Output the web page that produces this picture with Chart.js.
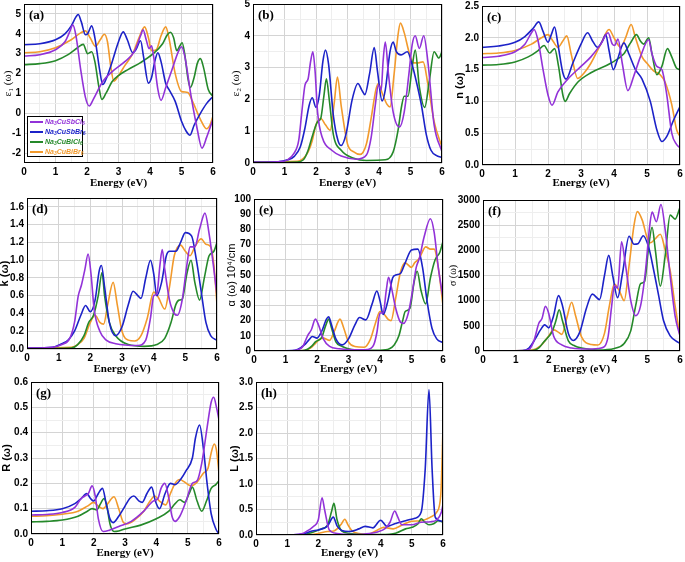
<!DOCTYPE html>
<html><head><meta charset="utf-8">
<script src="https://cdn.jsdelivr.net/npm/chart.js@4"></script>
<style>
html,body{margin:0;padding:0;background:#fff;}
#wrap{position:relative;width:685px;height:562px;overflow:hidden;background:#fff;}
canvas{position:absolute;}
#legend{position:absolute;left:27px;top:116px;width:56px;height:41px;border:1px solid #000;background:#fff;box-sizing:border-box;font:italic bold 7px "Liberation Sans",Arial,sans-serif;}
#legend .row{position:absolute;left:2px;height:10px;line-height:10px;white-space:nowrap;}
#legend .ln{display:inline-block;width:13px;height:2px;vertical-align:middle;margin-right:2px;}
#legend sub{font-size:5px;vertical-align:-1px;line-height:0;}
</style></head>
<body><div id="wrap"></div>
<script>
// ---------- series names / colours ----------
const seriesNames = ['Na3CuSbCl6','Na3CuSbBr6','Na3CuBiCl6','Na3CuBiBr6'];
const seriesColors = ['#9232d8','#1c22c8','#25892a','#f29a2c'];

// ---------- axis ticks ----------
const energyTicks = [0,1,2,3,4,5,6];
const energyMinor = [0.5,1.5,2.5,3.5,4.5,5.5];

// ---------- (a) eps1 ----------
const eps1_SbCl = [[0,2.88],[0.5,2.95],[1.0,3.2],[1.3,3.6],[1.45,4.1],[1.55,4.45],[1.65,3.9],[1.8,2.2],[1.95,0.8],[2.07,0.37],[2.2,0.7],[2.5,1.6],[2.8,2.1],[3.2,2.6],[3.5,3.1],[3.7,3.9],[3.78,4.2],[3.88,3.7],[3.97,3.25],[4.05,3.4],[4.12,2.8],[4.25,1.2],[4.35,0.65],[4.5,1.3],[4.7,2.2],[4.9,3.1],[5.0,3.35],[5.1,2.9],[5.3,0.9],[5.5,-0.8],[5.65,-1.75],[5.8,-1.2],[6.0,-0.3]];
const eps1_SbBr = [[0,3.45],[0.5,3.5],[1.0,3.7],[1.3,4.0],[1.5,4.4],[1.65,4.85],[1.72,4.97],[1.82,4.6],[1.95,3.95],[2.02,4.0],[2.15,4.4],[2.25,3.8],[2.4,2.2],[2.5,1.45],[2.6,1.7],[2.8,2.6],[3.0,3.6],[3.15,4.1],[3.28,3.7],[3.45,3.05],[3.55,3.2],[3.7,3.65],[3.8,2.8],[3.95,1.52],[4.05,1.8],[4.15,2.6],[4.25,3.05],[4.35,2.6],[4.5,1.5],[4.6,1.2],[4.8,0.6],[5.0,-0.4],[5.15,-0.9],[5.27,-1.1],[5.4,-0.6],[5.6,0.0],[5.8,0.5],[6.0,0.85]];
const eps1_BiCl = [[0,2.45],[0.5,2.5],[1.0,2.65],[1.4,2.95],[1.7,3.3],[1.88,3.47],[2.02,3.0],[2.15,3.1],[2.25,2.6],[2.38,1.3],[2.47,0.7],[2.6,1.0],[2.8,1.6],[3.0,1.9],[3.3,2.2],[3.7,2.55],[4.1,3.0],[4.4,3.5],[4.55,3.95],[4.65,4.08],[4.75,3.8],[4.85,3.15],[4.95,3.4],[5.02,3.55],[5.1,3.0],[5.2,1.8],[5.28,1.3],[5.4,1.8],[5.5,2.5],[5.6,2.75],[5.7,2.3],[5.85,1.2],[6.0,0.85]];
const eps1_BiBr = [[0,3.05],[0.5,3.1],[1.0,3.3],[1.5,3.7],[1.8,4.05],[1.95,4.15],[2.1,3.8],[2.27,3.37],[2.42,3.7],[2.55,3.98],[2.65,3.6],[2.75,2.4],[2.85,1.62],[3.0,1.9],[3.2,2.4],[3.45,3.0],[3.65,3.8],[3.83,4.35],[3.95,3.8],[4.05,3.15],[4.2,3.2],[4.35,3.9],[4.5,4.35],[4.6,3.8],[4.8,2.0],[5.0,1.1],[5.2,1.05],[5.35,0.6],[5.6,-0.3],[5.8,-0.78],[5.9,-0.6],[6.0,-0.15]];

// ---------- (b) eps2 ----------
const eps2_SbCl = [[0,0.02],[0.8,0.04],[1.1,0.1],[1.3,0.3],[1.45,0.7],[1.55,1.6],[1.65,2.45],[1.75,2.65],[1.83,3.2],[1.9,3.5],[1.97,2.9],[2.05,1.6],[2.2,0.8],[2.5,0.4],[2.8,0.22],[3.3,0.12],[3.6,0.25],[3.75,0.8],[3.88,1.8],[3.98,2.45],[4.07,2.3],[4.13,3.2],[4.2,3.8],[4.3,2.8],[4.45,1.6],[4.65,1.13],[4.8,1.6],[4.95,2.8],[5.05,3.7],[5.15,4.0],[5.28,3.6],[5.42,4.0],[5.55,3.2],[5.75,1.2],[6.0,0.35]];
const eps2_SbBr = [[0,0.02],[0.8,0.04],[1.1,0.1],[1.3,0.2],[1.5,0.5],[1.65,1.1],[1.78,1.8],[1.88,2.05],[2.0,1.75],[2.1,2.1],[2.22,3.2],[2.3,3.55],[2.4,3.1],[2.55,1.5],[2.7,0.7],[2.8,0.55],[2.95,0.9],[3.15,2.0],[3.33,2.5],[3.45,2.3],[3.55,2.15],[3.7,2.8],[3.85,3.63],[3.95,2.9],[4.1,1.95],[4.2,2.3],[4.35,3.5],[4.45,3.8],[4.55,3.5],[4.7,3.4],[4.9,3.5],[5.05,3.1],[5.2,2.5],[5.35,1.8],[5.5,0.9],[5.65,0.4],[5.85,0.22],[6.0,0.18]];
const eps2_BiCl = [[0,0.02],[1.4,0.03],[1.6,0.1],[1.75,0.4],[1.9,0.9],[2.05,1.3],[2.15,1.4],[2.25,2.1],[2.33,2.65],[2.42,2.0],[2.55,0.9],[2.8,0.4],[3.2,0.15],[3.6,0.08],[4.2,0.1],[4.45,0.35],[4.6,1.0],[4.72,1.8],[4.8,2.1],[4.92,2.1],[5.05,3.0],[5.15,3.55],[5.28,2.4],[5.45,1.75],[5.6,2.6],[5.75,3.5],[5.9,3.3],[6.0,3.5]];
const eps2_BiBr = [[0,0.03],[1.4,0.05],[1.6,0.15],[1.75,0.35],[1.88,0.7],[2.0,1.2],[2.15,1.4],[2.3,1.2],[2.45,1.03],[2.58,1.9],[2.68,2.7],[2.8,1.8],[3.0,0.6],[3.2,0.35],[3.4,0.27],[3.6,0.6],[3.75,1.4],[3.9,2.3],[3.98,2.5],[4.1,2.2],[4.25,1.85],[4.35,1.76],[4.48,2.8],[4.6,4.0],[4.68,4.4],[4.8,4.1],[4.95,3.5],[5.1,3.15],[5.25,3.15],[5.4,3.18],[5.55,2.5],[5.75,1.3],[6.0,0.5]];

// ---------- (c) n ----------
const n_SbCl = [[0,1.69],[0.5,1.71],[1.0,1.78],[1.3,1.9],[1.5,2.08],[1.58,2.13],[1.7,1.95],[1.85,1.5],[2.0,1.1],[2.12,0.94],[2.3,1.15],[2.6,1.35],[3.0,1.55],[3.3,1.7],[3.6,1.9],[3.82,2.08],[3.95,1.9],[4.02,1.88],[4.12,1.98],[4.25,1.6],[4.42,1.17],[4.6,1.4],[4.8,1.7],[5.05,1.97],[5.15,1.75],[5.3,1.55],[5.45,1.5],[5.6,1.1],[5.75,0.5],[5.9,0.32],[6.0,0.27]];
const n_SbBr = [[0,1.85],[0.5,1.87],[1.0,1.93],[1.3,2.02],[1.55,2.15],[1.72,2.25],[1.85,2.1],[2.0,1.93],[2.1,2.05],[2.2,2.17],[2.3,1.9],[2.45,1.45],[2.55,1.35],[2.75,1.6],[3.0,1.9],[3.2,2.08],[3.35,1.95],[3.5,1.85],[3.65,1.95],[3.75,2.05],[3.85,1.8],[3.98,1.5],[4.1,1.65],[4.3,1.92],[4.45,1.75],[4.65,1.5],[4.85,1.35],[5.1,1.0],[5.3,0.55],[5.45,0.37],[5.6,0.45],[5.8,0.7],[6.0,0.92]];
const n_BiCl = [[0,1.57],[0.5,1.58],[1.0,1.62],[1.4,1.7],[1.7,1.8],[1.88,1.88],[2.05,1.76],[2.2,1.83],[2.32,1.55],[2.45,1.1],[2.52,1.0],[2.65,1.12],[2.9,1.3],[3.3,1.45],[3.9,1.6],[4.3,1.75],[4.5,1.92],[4.68,2.05],[4.8,1.95],[4.9,1.9],[5.05,2.0],[5.15,1.75],[5.3,1.42],[5.45,1.55],[5.62,1.83],[5.75,1.7],[5.9,1.52],[6.0,1.5]];
const n_BiBr = [[0,1.75],[0.5,1.76],[1.0,1.8],[1.5,1.9],[1.8,2.0],[2.0,2.05],[2.15,1.95],[2.3,1.85],[2.45,1.95],[2.57,2.03],[2.7,1.75],[2.9,1.36],[3.1,1.45],[3.3,1.6],[3.6,1.9],[3.85,2.13],[4.0,2.0],[4.2,1.85],[4.35,2.0],[4.52,2.21],[4.65,2.0],[4.85,1.7],[5.0,1.6],[5.2,1.48],[5.4,1.42],[5.55,1.3],[5.75,0.95],[5.9,0.55],[6.0,0.45]];

// ---------- (d) k ----------
const k_SbCl = [[0,0.01],[0.8,0.02],[1.1,0.05],[1.35,0.12],[1.5,0.3],[1.62,0.6],[1.72,0.72],[1.83,0.9],[1.93,1.07],[2.02,0.85],[2.12,0.45],[2.3,0.2],[2.5,0.1],[2.8,0.06],[3.5,0.04],[3.75,0.1],[3.9,0.35],[4.0,0.6],[4.1,0.62],[4.2,0.95],[4.27,1.12],[4.35,0.9],[4.5,0.55],[4.65,0.4],[4.75,0.38],[4.9,0.55],[5.05,0.95],[5.15,1.15],[5.3,1.15],[5.45,1.35],[5.62,1.53],[5.75,1.3],[5.9,0.9],[6.0,0.6]];
const k_SbBr = [[0,0.01],[0.8,0.02],[1.1,0.06],[1.3,0.1],[1.5,0.2],[1.7,0.38],[1.85,0.49],[2.0,0.42],[2.15,0.55],[2.28,0.88],[2.35,0.94],[2.45,0.7],[2.6,0.3],[2.8,0.15],[3.0,0.25],[3.2,0.5],[3.35,0.65],[3.5,0.6],[3.6,0.57],[3.75,0.8],[3.9,1.0],[4.0,0.85],[4.1,0.6],[4.25,0.75],[4.4,1.05],[4.5,1.1],[4.7,1.1],[4.85,1.2],[5.0,1.31],[5.2,1.27],[5.35,1.0],[5.5,0.65],[5.65,0.3],[5.8,0.15],[6.0,0.1]];
const k_BiCl = [[0,0.005],[1.4,0.01],[1.6,0.05],[1.8,0.15],[1.95,0.3],[2.1,0.38],[2.25,0.6],[2.37,0.86],[2.45,0.6],[2.6,0.3],[2.8,0.15],[3.2,0.05],[3.7,0.03],[4.1,0.05],[4.35,0.12],[4.55,0.3],[4.7,0.5],[4.8,0.55],[4.9,0.56],[5.05,0.85],[5.18,1.0],[5.3,0.75],[5.45,0.55],[5.6,0.8],[5.75,1.05],[5.9,1.1],[6.0,1.2]];
const k_BiBr = [[0,0.01],[1.4,0.02],[1.6,0.05],[1.8,0.12],[2.0,0.3],[2.15,0.38],[2.3,0.3],[2.42,0.28],[2.55,0.5],[2.72,0.75],[2.85,0.5],[3.0,0.2],[3.2,0.1],[3.4,0.09],[3.6,0.15],[3.8,0.35],[4.0,0.64],[4.15,0.58],[4.35,0.45],[4.5,0.7],[4.65,1.05],[4.85,1.17],[5.0,1.1],[5.15,1.05],[5.3,1.15],[5.5,1.24],[5.65,1.18],[5.8,1.15],[5.9,0.95],[6.0,0.5]];

// ---------- (e) alpha ----------
const a_SbCl = [[0,0],[1.2,0.2],[1.4,0.8],[1.55,3],[1.7,10],[1.82,14],[1.95,21],[2.05,17],[2.2,8],[2.4,3],[2.7,1.5],[3.2,0.8],[3.6,1],[3.8,4],[3.9,12],[4.0,25],[4.1,25],[4.2,40],[4.27,48.5],[4.35,43],[4.5,28],[4.65,19],[4.75,18.2],[4.9,25],[5.05,42],[5.15,55],[5.25,61],[5.4,75],[5.6,87],[5.72,78],[5.85,55],[6.0,35]];
const a_SbBr = [[0,0],[1.2,0.3],[1.4,1.2],[1.6,4],[1.75,7.5],[1.85,9.5],[2.0,8.5],[2.15,13],[2.3,21],[2.37,22.5],[2.45,18],[2.6,8],[2.8,4],[3.0,8],[3.2,17],[3.35,22],[3.55,20.5],[3.75,31],[3.9,39.5],[4.0,33],[4.1,24],[4.25,33],[4.4,48],[4.5,50],[4.65,51],[4.8,58],[5.0,66.5],[5.2,67],[5.35,55],[5.5,32],[5.65,15],[5.8,8],[6.0,5.5]];
const a_BiCl = [[0,0],[1.5,0.2],[1.7,1.2],[1.85,3.5],[1.95,6],[2.15,9],[2.28,17],[2.37,21],[2.45,16],[2.6,6],[2.8,3],[3.1,1],[3.5,0.5],[4.0,0.5],[4.3,1.5],[4.45,4],[4.6,10],[4.72,20],[4.8,26],[4.95,28],[5.08,45],[5.18,52.5],[5.3,40],[5.45,31],[5.6,48],[5.75,60],[5.9,65],[6.0,72]];
const a_BiBr = [[0,0],[1.6,0.3],[1.8,2],[1.95,5],[2.1,8],[2.2,8.5],[2.4,7],[2.55,13],[2.73,21],[2.85,15],[3.0,6],[3.2,3],[3.5,2.5],[3.7,8],[3.85,18],[4.0,26],[4.1,25],[4.25,21],[4.35,20],[4.5,35],[4.65,52],[4.8,58],[5.0,55],[5.1,58],[5.25,61],[5.45,68.5],[5.6,67],[5.72,67],[5.85,55],[6.0,30]];

// ---------- (f) sigma ----------
const s_SbCl = [[0,0],[1.2,5],[1.4,30],[1.55,200],[1.7,550],[1.8,650],[1.9,890],[2.0,750],[2.15,300],[2.4,120],[2.7,60],[3.2,40],[3.6,60],[3.8,250],[3.92,900],[4.0,1300],[4.1,1250],[4.22,2170],[4.32,1800],[4.5,1000],[4.65,700],[4.8,900],[4.95,1600],[5.08,2500],[5.15,2760],[5.28,2570],[5.42,2910],[5.55,2400],[5.7,1500],[5.85,700],[6.0,300]];
const s_SbBr = [[0,0],[1.2,10],[1.4,60],[1.6,250],[1.75,420],[1.88,520],[2.0,460],[2.15,700],[2.3,1100],[2.42,900],[2.6,350],[2.75,210],[2.95,380],[3.15,850],[3.33,1130],[3.55,1020],[3.7,1500],[3.83,1900],[3.95,1500],[4.1,1060],[4.25,1550],[4.45,2280],[4.6,2120],[4.72,2130],[4.88,2290],[5.05,2050],[5.2,1600],[5.35,1100],[5.5,600],[5.7,300],[6.0,150]];
const s_BiCl = [[0,0],[1.5,10],[1.7,60],[1.85,180],[1.95,250],[2.1,380],[2.22,600],[2.32,820],[2.42,600],[2.6,200],[2.8,100],[3.0,60],[3.5,20],[4.0,50],[4.3,150],[4.5,400],[4.65,900],[4.8,1340],[4.92,1380],[5.05,2100],[5.15,2460],[5.25,2000],[5.4,1290],[5.55,1900],[5.7,2700],[5.85,2620],[6.0,2850]];
const s_BiBr = [[0,0],[1.5,20],[1.75,100],[2.0,300],[2.15,420],[2.28,380],[2.4,330],[2.55,650],[2.7,970],[2.82,700],[3.0,280],[3.3,130],[3.5,120],[3.7,350],[3.85,900],[4.0,1330],[4.15,1200],[4.3,1000],[4.45,1700],[4.6,2500],[4.7,2770],[4.85,2600],[5.0,2250],[5.1,2150],[5.25,2230],[5.4,2320],[5.55,2000],[5.7,1600],[5.85,900],[6.0,300]];

// ---------- (g) R ----------
const R_SbCl = [[0,0.075],[0.5,0.077],[1.0,0.085],[1.4,0.105],[1.6,0.14],[1.72,0.15],[1.83,0.16],[1.95,0.19],[2.05,0.15],[2.15,0.06],[2.3,0.01],[2.5,0.015],[2.8,0.03],[3.2,0.05],[3.6,0.09],[3.9,0.13],[4.05,0.14],[4.15,0.18],[4.27,0.2],[4.4,0.14],[4.5,0.07],[4.6,0.05],[4.75,0.07],[4.95,0.13],[5.15,0.2],[5.3,0.21],[5.45,0.28],[5.62,0.42],[5.75,0.52],[5.83,0.54],[5.92,0.5],[6.0,0.45]];
const R_SbBr = [[0,0.09],[0.5,0.092],[1.0,0.1],[1.4,0.12],[1.6,0.14],[1.78,0.16],[1.9,0.14],[2.0,0.13],[2.15,0.16],[2.28,0.18],[2.4,0.12],[2.52,0.06],[2.62,0.045],[2.8,0.07],[3.0,0.11],[3.15,0.14],[3.28,0.15],[3.45,0.13],[3.55,0.125],[3.7,0.16],[3.85,0.185],[3.97,0.13],[4.1,0.1],[4.28,0.16],[4.45,0.2],[4.6,0.195],[4.8,0.22],[4.95,0.25],[5.15,0.3],[5.25,0.38],[5.38,0.43],[5.5,0.34],[5.62,0.2],[5.75,0.08],[5.9,0.02],[6.0,0.0]];
const R_BiCl = [[0,0.048],[0.5,0.05],[1.0,0.055],[1.5,0.07],[1.8,0.09],[1.95,0.1],[2.1,0.095],[2.22,0.12],[2.33,0.14],[2.42,0.11],[2.52,0.04],[2.65,0.01],[2.8,0.012],[3.0,0.02],[3.5,0.035],[4.0,0.06],[4.4,0.09],[4.6,0.12],[4.75,0.135],[4.9,0.125],[5.05,0.16],[5.15,0.185],[5.3,0.13],[5.45,0.09],[5.6,0.13],[5.75,0.18],[5.9,0.195],[6.0,0.21]];
const R_BiBr = [[0,0.07],[0.5,0.072],[1.0,0.078],[1.5,0.09],[1.8,0.11],[2.0,0.125],[2.15,0.11],[2.3,0.1],[2.45,0.12],[2.65,0.147],[2.8,0.1],[2.95,0.045],[3.05,0.04],[3.3,0.055],[3.6,0.09],[3.8,0.13],[3.95,0.15],[4.1,0.13],[4.3,0.115],[4.45,0.16],[4.6,0.2],[4.75,0.215],[4.9,0.205],[5.1,0.19],[5.3,0.205],[5.5,0.24],[5.65,0.26],[5.75,0.32],[5.85,0.355],[5.92,0.33],[6.0,0.24]];

// ---------- (h) L ----------
const L_SbCl = [[0,0],[1.2,0.005],[1.5,0.03],[1.7,0.1],[1.85,0.17],[2.0,0.3],[2.12,0.73],[2.2,0.5],[2.35,0.1],[2.6,0.03],[3.0,0.01],[3.5,0.02],[3.9,0.06],[4.15,0.13],[4.3,0.25],[4.45,0.47],[4.55,0.35],[4.68,0.2],[5.0,0.2],[5.3,0.25],[5.6,0.26],[5.8,0.3],[5.95,0.45],[6.0,0.6]];
const L_SbBr = [[0,0],[1.2,0.005],[1.5,0.02],[1.8,0.08],[2.0,0.1],[2.3,0.18],[2.48,0.35],[2.6,0.18],[2.75,0.09],[3.0,0.07],[3.3,0.12],[3.5,0.17],[3.75,0.14],[4.0,0.29],[4.2,0.17],[4.45,0.22],[4.8,0.28],[5.1,0.33],[5.3,0.45],[5.43,1.3],[5.55,2.85],[5.65,1.3],[5.75,0.35],[5.9,0.28],[6.0,0.26]];
const L_BiCl = [[0,0],[1.5,0.005],[1.8,0.05],[2.1,0.12],[2.3,0.2],[2.42,0.45],[2.5,0.62],[2.6,0.3],[2.75,0.08],[3.0,0.03],[3.5,0.01],[4.0,0.01],[4.5,0.04],[4.8,0.12],[5.0,0.15],[5.2,0.22],[5.3,0.32],[5.42,0.25],[5.55,0.2],[5.7,0.22],[5.85,0.28],[6.0,0.25]];
const L_BiBr = [[0,0],[1.7,0.005],[2.0,0.03],[2.3,0.07],[2.5,0.08],[2.72,0.2],[2.85,0.31],[2.95,0.2],[3.1,0.07],[3.3,0.03],[3.6,0.02],[3.9,0.1],[4.1,0.15],[4.4,0.12],[4.7,0.2],[5.0,0.27],[5.3,0.28],[5.6,0.35],[5.8,0.45],[5.93,0.8],[6.0,2.1]];

// ---------- y tick arrays ----------
const yTicksA = [-2,-1,0,1,2,3,4,5];          const yMinorA = [-1.5,-0.5,0.5,1.5,2.5,3.5,4.5];
const yTicksB = [0,1,2,3,4,5];                const yMinorB = [0.5,1.5,2.5,3.5,4.5];
const yTicksC = [0,0.5,1.0,1.5,2.0,2.5];      const yMinorC = [0.25,0.75,1.25,1.75,2.25];
const yTicksD = [0,0.2,0.4,0.6,0.8,1.0,1.2,1.4,1.6]; const yMinorD = [];
const yTicksE = [0,10,20,30,40,50,60,70,80,90,100]; const yMinorE = [];
const yTicksF = [0,500,1000,1500,2000,2500,3000]; const yMinorF = [250,750,1250,1750,2250,2750];
const yTicksG = [0,0.1,0.2,0.3,0.4,0.5,0.6];  const yMinorG = [0.05,0.15,0.25,0.35,0.45,0.55];
const yTicksH = [0,0.5,1.0,1.5,2.0,2.5,3.0];  const yMinorH = [0.25,0.75,1.25,1.75,2.25,2.75];

// ---------- panels (layout only) ----------
const SANS = '"Liberation Sans", Arial, sans-serif';
const SERIF = '"Liberation Serif", "Times New Roman", serif';
const panels = [
 {id:'a', data:[eps1_SbCl,eps1_SbBr,eps1_BiCl,eps1_BiBr], ymin:-2.5, ymax:5.5, yt:yTicksA, ym:yMinorA, dec:0,
  title:'ε\u2081 (ω)', tfont:{family:SERIF,size:11,weight:'normal'}, L:2,T:0,W:220,H:190, yW:22, xH:27, top:4, right:9},
 {id:'b', data:[eps2_SbCl,eps2_SbBr,eps2_BiCl,eps2_BiBr], ymin:0, ymax:5, yt:yTicksB, ym:yMinorB, dec:0,
  title:'ε\u2082 (ω)', tfont:{family:SERIF,size:11,weight:'normal'}, L:230,T:0,W:220,H:190, yW:23, xH:27, top:4, right:8},
 {id:'c', data:[n_SbCl,n_SbBr,n_BiCl,n_BiBr], ymin:0, ymax:2.5, yt:yTicksC, ym:yMinorC, dec:1,
  title:'n (ω)', tfont:{family:SANS,size:11,weight:'bold'}, L:453,T:0,W:232,H:190, yW:29, xH:25, top:6, right:5},
 {id:'d', data:[k_SbCl,k_SbBr,k_BiCl,k_BiBr], ymin:0, ymax:1.7, yt:yTicksD, ym:yMinorD, dec:1,
  title:'k (ω)', tfont:{family:SANS,size:11,weight:'bold'}, L:-2,T:188,W:228,H:188, yW:29, xH:27, top:10, right:9},
 {id:'e', data:[a_SbCl,a_SbBr,a_BiCl,a_BiBr], ymin:0, ymax:100, yt:yTicksE, ym:yMinorE, dec:0,
  title:'α (ω) 10⁴/cm', tfont:{family:SANS,size:11,weight:'normal'}, L:225,T:188,W:226,H:188, yW:29, xH:25, top:11, right:8},
 {id:'f', data:[s_SbCl,s_SbBr,s_BiCl,s_BiBr], ymin:0, ymax:3000, yt:yTicksF, ym:yMinorF, dec:0,
  title:'σ (ω)', tfont:{family:SERIF,size:10,weight:'normal'}, L:447,T:188,W:238,H:188, yW:36, xH:25, top:12, right:5},
 {id:'g', data:[R_SbCl,R_SbBr,R_BiCl,R_BiBr], ymin:0, ymax:0.6, yt:yTicksG, ym:yMinorG, dec:1,
  title:'R (ω)', tfont:{family:SANS,size:11,weight:'bold'}, L:0,T:372,W:228,H:188, yW:31, xH:26, top:10, right:9},
 {id:'h', data:[L_SbCl,L_SbBr,L_BiCl,L_BiBr], ymin:0, ymax:3.0, yt:yTicksH, ym:yMinorH, dec:1,
  title:'L (ω)', tfont:{family:SANS,size:11,weight:'bold'}, L:228,T:372,W:224,H:188, yW:28, xH:25, top:10, right:9}
];

const framePlugin = {
  id:'frame',
  afterDatasetsDraw(chart, args, opts){
    const a = chart.chartArea, ctx = chart.ctx;
    ctx.save();
    ctx.strokeStyle = '#000'; ctx.lineWidth = 1;
    ctx.strokeRect(Math.round(a.left)+0.5, Math.round(a.top)+0.5, Math.round(a.right-a.left)-1, Math.round(a.bottom-a.top)-1);
    ctx.fillStyle = '#000';
    ctx.font = 'bold 13px ' + SERIF;
    ctx.textBaseline = 'alphabetic';
    ctx.fillText('(' + opts.label + ')', a.left + 5, a.top + 15);
    ctx.restore();
  }
};

function isIn(arr, v){ return arr.some(t => Math.abs(t - v) < 1e-9); }

function buildScale(min, max, majors, minors, fmt, horizontal, sizeFix, title){
  return {
    type:'linear', min, max,
    afterBuildTicks: ax => { ax.ticks = majors.concat(minors).sort((p,q)=>p-q).map(v => ({value:v})); },
    afterFit: sc => {
      if (horizontal) { sc.height = sizeFix; sc.paddingLeft = 0; sc.paddingRight = 0; }
      else { sc.width = sizeFix; sc.paddingTop = 0; sc.paddingBottom = 0; }
    },
    ticks:{ autoSkip:false, maxRotation:0, minRotation:0, padding:3, color:'#000',
      font:{family:SANS, size:10, weight:'bold'},
      callback: v => isIn(majors, v) ? fmt(v) : '' },
    grid:{ drawTicks:false, lineWidth:1,
      color: c => (c.tick && isIn(majors, c.tick.value)) ? '#d4d4d4' : '#eeeeee' },
    border:{ display:false },
    title: title
  };
}

const wrap = document.getElementById('wrap');
panels.forEach(p => {
  const cv = document.createElement('canvas');
  cv.width = p.W; cv.height = p.H;
  cv.style.left = p.L + 'px'; cv.style.top = p.T + 'px';
  cv.style.width = p.W + 'px'; cv.style.height = p.H + 'px';
  wrap.appendChild(cv);
  const datasets = p.data.map((series, i) => ({
    label: seriesNames[i],
    data: series.map(pt => ({x: pt[0], y: pt[1]})),
    borderColor: seriesColors[i], backgroundColor: seriesColors[i],
    borderWidth: 1.6, pointRadius: 0, fill:false,
    cubicInterpolationMode: 'monotone'
  }));
  const fmtY = v => v.toFixed(p.dec);
  new Chart(cv, {
    type:'line',
    data:{ datasets },
    plugins:[framePlugin],
    options:{
      responsive:false, animation:false, devicePixelRatio:1,
      layout:{ padding:{ top:p.top, right:p.right, bottom:0, left:0 } },
      plugins:{ legend:{display:false}, tooltip:{enabled:false}, frame:{label:p.id} },
      scales:{
        x: buildScale(0, 6, energyTicks, energyMinor, v => String(v), true, p.xH,
             {display:true, text:'Energy (eV)', color:'#000', padding:0, font:{family:SERIF, size:11, weight:'bold'}}),
        y: buildScale(p.ymin, p.ymax, p.yt, p.ym, fmtY, false, p.yW,
             {display:true, text:p.title, color:'#000', padding:0, font:p.tfont})
      }
    }
  });
});

// ---------- legend (panel a) ----------
const leg = document.createElement('div');
leg.id = 'legend';
const legendHtml = ['Na<sub>3</sub>CuSbCl<sub>6</sub>','Na<sub>3</sub>CuSbBr<sub>6</sub>','Na<sub>3</sub>CuBiCl<sub>6</sub>','Na<sub>3</sub>CuBiBr<sub>6</sub>'];
legendHtml.forEach((h, i) => {
  const r = document.createElement('div');
  r.className = 'row';
  r.style.top = (0 + i*10) + 'px';
  r.style.color = seriesColors[i];
  r.innerHTML = '<span class="ln" style="background:' + seriesColors[i] + '"></span>' + h;
  leg.appendChild(r);
});
wrap.appendChild(leg);
</script>
</body></html>
